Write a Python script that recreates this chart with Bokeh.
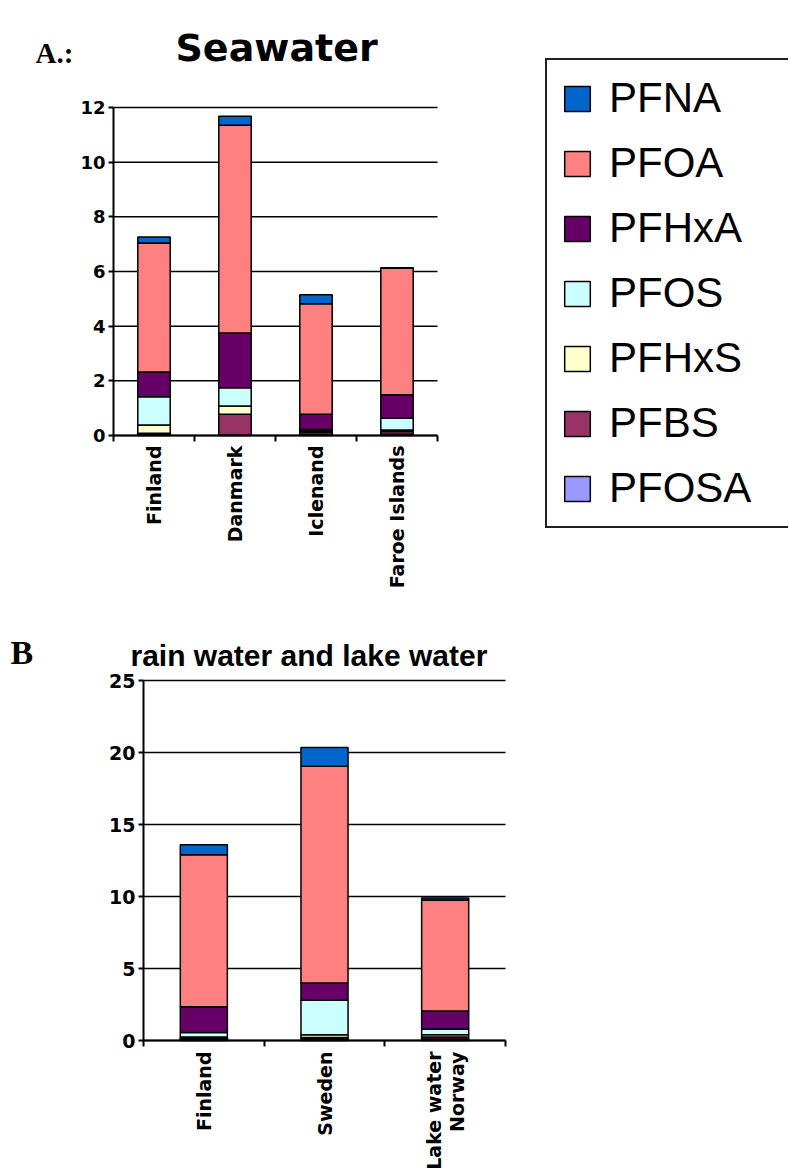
import math
from bokeh.plotting import figure
from bokeh.models import ColumnDataSource, Range1d, FixedTicker, Legend, LegendItem, Label
from bokeh.core.properties import value
from bokeh.layouts import column
from bokeh.embed import file_html
from bokeh.resources import INLINE

# ---------------- data ----------------
series = ["PFOSA", "PFBS", "PFHxS", "PFOS", "PFHxA", "PFOA", "PFNA"]
colors = ["#9999FF", "#993366", "#FFFFCC", "#CCFFFF", "#660066", "#FF8080", "#0066CC"]

sea_sites = ["Finland", "Danmark", "Iclenand", "Faroe Islands"]
sea_PFOSA = [0.03, 0.02, 0.05, 0.05]
sea_PFBS = [0.05, 0.76, 0.08, 0.10]
sea_PFHxS = [0.30, 0.30, 0.05, 0.05]
sea_PFOS = [1.04, 0.67, 0.04, 0.44]
sea_PFHxA = [0.90, 2.00, 0.56, 0.85]
sea_PFOA = [4.72, 7.60, 4.04, 4.63]
sea_PFNA = [0.22, 0.33, 0.33, 0.02]
sea_ticks = [0, 2, 4, 6, 8, 10, 12]
sea_tick_labels = ["0", "2", "4", "6", "8", "10", "12"]

rain_sites = ["Finland", "Sweden", "Lake water\nNorway"]
rain_PFOSA = [0.05, 0.10, 0.10]
rain_PFBS = [0.10, 0.10, 0.15]
rain_PFHxS = [0.10, 0.20, 0.15]
rain_PFOS = [0.30, 2.40, 0.40]
rain_PFHxA = [1.80, 1.20, 1.25]
rain_PFOA = [10.55, 15.05, 7.70]
rain_PFNA = [0.70, 1.30, 0.15]
rain_ticks = [0, 5, 10, 15, 20, 25]
rain_tick_labels = ["0", "5", "10", "15", "20", "25"]

BOLD_FONT = "DejaVu Sans"

# ---------------- layout geometry (page pixels) ----------------
W = 788
HA, HB = 595, 579
BORDER_L, BORDER_B = 8, 3


def x_range_for(zero_px, end_px, n):
    ppu = (end_px - zero_px) / n
    return Range1d(-(zero_px - BORDER_L) / ppu, (W - zero_px) / ppu)


def y_range_for(frame_top, frame_bottom, zero_px, top_px, top_val):
    ppu = (zero_px - top_px) / top_val
    return Range1d(-(frame_bottom - zero_px) / ppu, (zero_px - frame_top) / ppu)


def make_source(sites, cols):
    data = {"x": [i + 0.5 for i in range(len(sites))], "site": list(sites)}
    for name, vals in zip(series, cols):
        data[name] = vals
    return ColumnDataSource(data)


def build_chart(height, xr, yr, src, sites, ticks, tick_labels, bar_w,
                tick_size, cat_size, cat_offset):
    p = figure(width=W, height=height, output_backend="svg", toolbar_location=None,
               x_range=xr, y_range=yr, min_border_left=BORDER_L, min_border_right=0,
               min_border_top=0, min_border_bottom=BORDER_B)
    p.background_fill_color = "white"
    p.border_fill_color = "white"
    p.outline_line_color = None
    p.grid.visible = False

    n = len(sites)
    # horizontal gridlines at the tick values, spanning the category area
    p.segment(x0=0, x1=n, y0=ticks, y1=ticks, line_color="black", line_width=1.5)

    rends = p.vbar_stack(series, x="x", width=bar_w, source=src, fill_color=colors,
                         line_color="black", line_width=1.5)

    ya = p.yaxis[0]
    ya.fixed_location = 0
    ya.bounds = (ticks[0], ticks[-1])
    ya.ticker = FixedTicker(ticks=ticks)
    ya.major_label_overrides = {t: "" for t in ticks}
    ya.axis_line_color = "black"
    ya.axis_line_width = 2
    ya.major_tick_out = 5
    ya.major_tick_in = 0
    ya.major_tick_line_width = 2
    ya.minor_tick_out = 0
    ya.major_label_standoff = 0

    # y tick numbers, left of the axis line
    p.text(x=0, y=ticks, text=tick_labels, x_offset=-8, text_align="right",
           text_baseline="middle", text_font=value(BOLD_FONT), text_font_style="bold",
           text_font_size=tick_size, text_color="black")

    xa = p.xaxis[0]
    xa.fixed_location = 0
    xa.bounds = (0, n)
    xa.ticker = FixedTicker(ticks=[], minor_ticks=list(range(n + 1)))
    xa.axis_line_color = "black"
    xa.axis_line_width = 2
    xa.major_tick_out = 0
    xa.major_tick_in = 0
    xa.minor_tick_out = 6
    xa.minor_tick_in = 0
    xa.minor_tick_line_width = 2

    # category names, rotated to read upwards, hanging below the axis
    p.text(x="x", y=0, text="site", source=src, angle=math.pi / 2,
           text_align="right", text_baseline="middle", y_offset=cat_offset,
           text_font=value(BOLD_FONT), text_font_style="bold",
           text_font_size=cat_size, text_color="black", text_line_height=1.05)
    return p, rends


def add_label(p, text, page_x, page_y, frame_bottom, font, size, style="bold"):
    p.add_layout(Label(x=page_x - BORDER_L, y=frame_bottom - page_y,
                       x_units="screen", y_units="screen", text=text,
                       text_font=font, text_font_style=style, text_font_size=size,
                       text_baseline="alphabetic", text_align="left",
                       text_color="black"))


# ---------------- chart A ----------------
fbA = HA - BORDER_B
srcA = make_source(sea_sites, [sea_PFOSA, sea_PFBS, sea_PFHxS, sea_PFOS,
                               sea_PFHxA, sea_PFOA, sea_PFNA])
pA, rendsA = build_chart(HA, x_range_for(113, 437, len(sea_sites)),
                         y_range_for(0, fbA, 435, 107, 12),
                         srcA, sea_sites, sea_ticks, sea_tick_labels, 0.4,
                         "18px", "19px", 10)

items = [LegendItem(label=n, renderers=[r]) for n, r in zip(series, rendsA)][::-1]
legend = Legend(items=items, location=(545 - BORDER_L, fbA - 528), orientation="vertical",
                label_text_font="Liberation Sans", label_text_font_size="42px",
                label_text_color="black", glyph_width=32, glyph_height=31,
                label_standoff=16, label_width=165, label_height=46,
                spacing=17, padding=14, margin=0,
                border_line_color="#202020", border_line_width=2, border_line_alpha=1.0,
                background_fill_color="white", background_fill_alpha=1.0)
pA.add_layout(legend)

add_label(pA, "Seawater", 175, 47, fbA, BOLD_FONT, "38px")
add_label(pA, "A.:", 35, 52, fbA, "Liberation Serif", "29px")

# ---------------- chart B ----------------
topB = HA
fbB = HA + HB - BORDER_B
srcB = make_source(rain_sites, [rain_PFOSA, rain_PFBS, rain_PFHxS, rain_PFOS,
                                rain_PFHxA, rain_PFOA, rain_PFNA])
pB, rendsB = build_chart(HB, x_range_for(143, 505, len(rain_sites)),
                         y_range_for(topB, fbB, 1040, 680, 25),
                         srcB, rain_sites, rain_ticks, rain_tick_labels, 0.39,
                         "19px", "19px", 11)

add_label(pB, "rain water and lake water", 130, 655, fbB, "Liberation Sans", "30px")
add_label(pB, "B", 10, 652, fbB, "Liberation Serif", "34px")

layout = column(pA, pB, spacing=0)
open("out.html", "w").write(file_html(layout, INLINE))
